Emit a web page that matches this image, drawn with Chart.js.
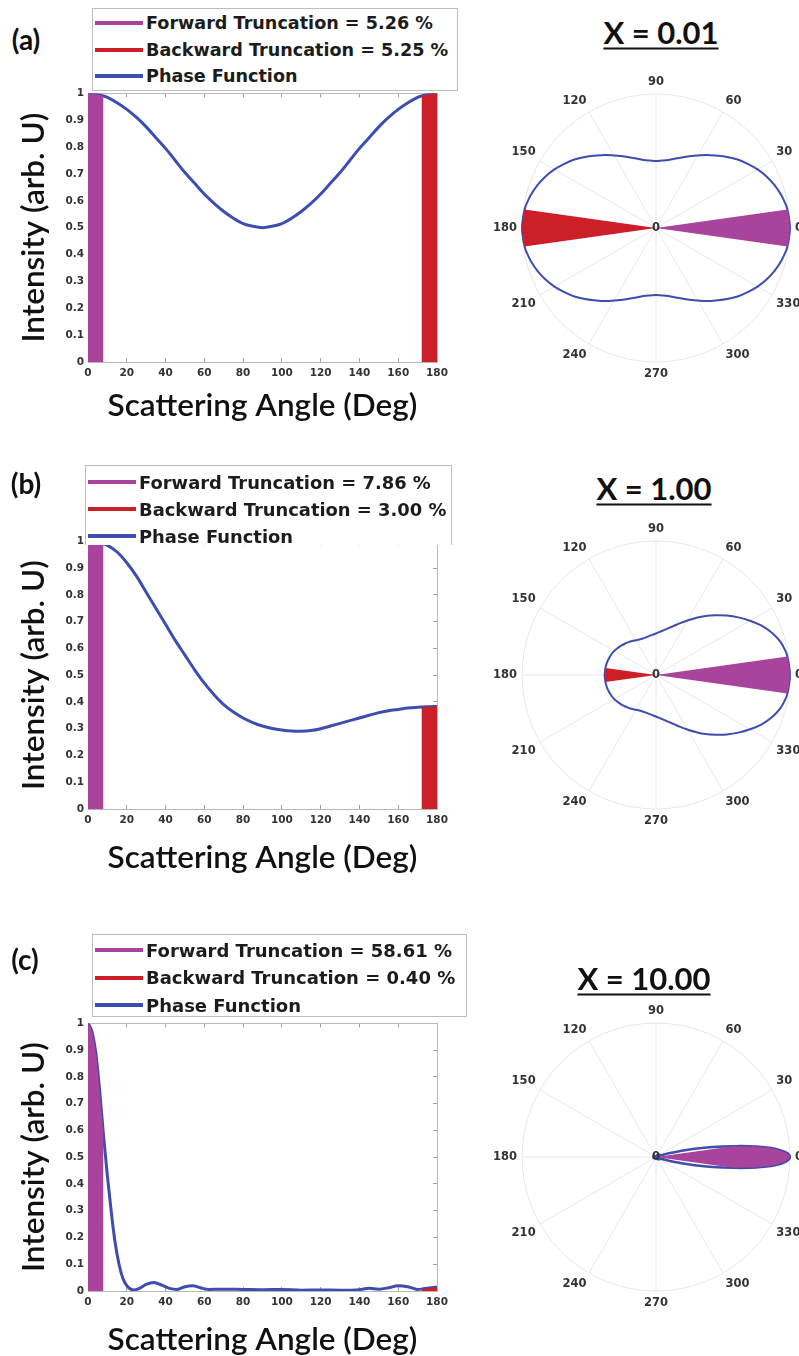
<!DOCTYPE html>
<html>
<head>
<meta charset="utf-8">
<title>Phase function truncation</title>
<script src="https://cdn.jsdelivr.net/npm/chart.js@4.4.1/dist/chart.umd.min.js"></script>
<style>
  html, body { margin: 0; padding: 0; background: #fff; }
  body { position: relative; width: 799px; height: 1356px; overflow: hidden; }
  canvas { position: absolute; }
  .tag { position: absolute; font: 700 28px Lato, sans-serif; color: #111; line-height: 1; transform: translate(-50%, -50%); white-space: nowrap; }
  .size { position: absolute; font: 700 31px Lato, sans-serif; color: #111; line-height: 1; white-space: nowrap;
          transform: translate(-50%, -50%); text-decoration: underline; text-decoration-thickness: 2px; text-underline-offset: 4px; }
  .legend { position: absolute; box-sizing: border-box; background: #fff; border: 1px solid #bdbdbd;
            font-family: "DejaVu Sans", sans-serif; font-weight: 700; color: #1c1c1c; }
  .legend .row { position: absolute; left: 0; height: 26px; display: flex; align-items: center; white-space: nowrap; }
  .legend .swatch { width: 48px; height: 4px; margin: 0 3px 0 2px; flex: none; }
</style>
</head>
<body>
<script>
// ---- values ----
const sizeParameters     = [0.01, 1.00, 10.00];
const forwardTruncation  = [5.26, 7.86, 58.61];   // percent
const backwardTruncation = [5.25, 3.00, 0.40];    // percent
const truncationAngle    = 8;                     // degrees

const anglesA = [0, 4, 8, 10, 15, 20, 25, 30, 35, 40, 45, 50, 55, 60, 65, 70, 75, 80, 85, 90,
                 95, 100, 105, 110, 115, 120, 125, 130, 135, 140, 145, 150, 155, 160, 165, 170, 172, 176, 180];
const phaseA  = [1.00, 0.996, 0.99, 0.985, 0.965, 0.94, 0.91, 0.875, 0.835, 0.795, 0.75, 0.705, 0.665, 0.625, 0.59, 0.56, 0.535, 0.515, 0.505, 0.50,
                 0.505, 0.515, 0.535, 0.56, 0.59, 0.625, 0.665, 0.705, 0.75, 0.795, 0.835, 0.875, 0.91, 0.94, 0.965, 0.985, 0.99, 0.996, 1.00];

const anglesB = [0, 4, 8, 10, 15, 20, 25, 30, 35, 40, 45, 50, 55, 60, 65, 70, 75, 80, 85, 90,
                 95, 100, 105, 110, 115, 120, 125, 130, 135, 140, 145, 150, 155, 160, 165, 170, 172, 176, 180];
const phaseB  = [1.00, 0.996, 0.99, 0.985, 0.96, 0.92, 0.87, 0.81, 0.75, 0.69, 0.63, 0.575, 0.52, 0.47, 0.427, 0.39, 0.362, 0.34, 0.323, 0.31,
                 0.301, 0.295, 0.291, 0.29, 0.293, 0.30, 0.31, 0.32, 0.33, 0.34, 0.35, 0.36, 0.367, 0.372, 0.377, 0.38, 0.381, 0.382, 0.383];

const anglesC = [0, 2, 4, 6, 8, 10, 12, 14, 16, 18, 20, 22, 24, 27, 30, 34, 38, 42, 46, 50, 54, 58, 62, 70, 80, 90, 100, 110, 120, 130, 140, 145, 150, 155, 160, 165, 170, 172, 175, 180];
const phaseC  = [1.00, 0.97, 0.89, 0.75, 0.58, 0.43, 0.295, 0.18, 0.10, 0.047, 0.02, 0.007, 0.004, 0.012, 0.025, 0.032, 0.022, 0.01, 0.006, 0.016, 0.02, 0.012, 0.006, 0.007, 0.006, 0.005, 0.006, 0.003, 0.004, 0.003, 0.005, 0.01, 0.007, 0.012, 0.02, 0.016, 0.006, 0.007, 0.01, 0.015];

const xTicks      = [0, 20, 40, 60, 80, 100, 120, 140, 160, 180];
const xTickLabels = ['0', '20', '40', '60', '80', '100', '120', '140', '160', '180'];
const yTicks      = [0, 0.1, 0.2, 0.3, 0.4, 0.5, 0.6, 0.7, 0.8, 0.9, 1];
const yTickLabels = ['0', '0.1', '0.2', '0.3', '0.4', '0.5', '0.6', '0.7', '0.8', '0.9', '1'];
const polarLabels = [0, 30, 60, 90, 120, 150, 180, 210, 240, 270, 300, 330];

const panelTags = ['(a)', '(b)', '(c)'];
const panels = [
  { angles: anglesA, phase: phaseA },
  { angles: anglesB, phase: phaseB },
  { angles: anglesC, phase: phaseC }
];

// ---- look & placement ----
const PURPLE = '#a8449b', RED = '#cc1f27', BLUE = '#3d4db0';
const FRAME = '#b8b8b8', TICKMARK = '#a0a0a0', TICKTEXT = '#333';
const tickFont = { family: 'DejaVu Sans', size: 10.5, weight: 'bold' };
const axisTitleFont = { family: 'Lato', size: 31.5, weight: 600 };

const cartesianFrames = [
  { top: 79,   height: 346, xAxisHeight: 63 },
  { top: 527,  height: 350, xAxisHeight: 68 },
  { top: 1009, height: 350, xAxisHeight: 68 }
];
const legendBoxes = [
  { left: 92, top: 8,   width: 366, height: 83, rowTop: 1, rowGap: 26.5, font: 17.6, bottomBorder: true },
  { left: 85, top: 465, width: 367, height: 80, rowTop: 3, rowGap: 27,   font: 17.9, bottomBorder: false },
  { left: 92, top: 934, width: 375, height: 83, rowTop: 2, rowGap: 27.5, font: 18,   bottomBorder: true }
];
const tagCentres   = [[26, 39], [26, 483], [25, 959]];
const titleCentres = [[661, 32], [654, 488], [644, 978]];
const polarFrames  = [ { left: 485, top: 66, line: 2 }, { left: 485, top: 513, line: 2 }, { left: 485, top: 995, line: 2.5 } ];
const POLAR_SIZE = 326;

Chart.defaults.font.family = 'DejaVu Sans';
Chart.defaults.color = TICKTEXT;

function addCanvas(left, top, w, h) {
  const c = document.createElement('canvas');
  c.width = w; c.height = h;
  c.style.left = left + 'px'; c.style.top = top + 'px';
  c.style.width = w + 'px'; c.style.height = h + 'px';
  document.body.appendChild(c);
  return c;
}

function addText(cls, text, centre) {
  const d = document.createElement('div');
  d.className = cls;
  d.textContent = text;
  d.style.left = centre[0] + 'px';
  d.style.top = centre[1] + 'px';
  document.body.appendChild(d);
}

function fixedTicks(values) {
  return scale => { scale.ticks = values.map(v => ({ value: v })); };
}

// top and right edges of the box: tick marks only, no labels, no room taken
function frameAxis(position, min, max, values) {
  const horizontal = position === 'top' || position === 'bottom';
  return {
    type: 'linear', position, min, max,
    afterBuildTicks: fixedTicks(values),
    ticks: { display: false },
    grid: { drawOnChartArea: false, tickLength: -4, color: TICKMARK },
    border: { color: FRAME },
    afterFit: s => { if (horizontal) s.height = 0; else s.width = 0; }
  };
}

function truncationLabels(k) {
  return [
    'Forward Truncation = ' + forwardTruncation[k].toFixed(2) + ' %',
    'Backward Truncation = ' + backwardTruncation[k].toFixed(2) + ' %',
    'Phase Function'
  ];
}

function cartesianChart(k) {
  const { angles, phase } = panels[k];
  const f = cartesianFrames[k];
  const canvas = addCanvas(0, f.top, 460, f.height);
  const points = angles.map((a, i) => ({ x: a, y: phase[i] }));
  const forward = points.filter(p => p.x <= truncationAngle);
  const backward = points.filter(p => p.x >= 180 - truncationAngle);
  const labels = truncationLabels(k);
  const area = { borderWidth: 0, fill: 'origin', pointRadius: 0, cubicInterpolationMode: 'monotone' };
  return new Chart(canvas, {
    type: 'line',
    data: {
      datasets: [
        Object.assign({ label: labels[0], data: forward, borderColor: PURPLE, backgroundColor: PURPLE }, area),
        Object.assign({ label: labels[1], data: backward, borderColor: RED, backgroundColor: RED }, area),
        { label: labels[2], data: points, borderColor: BLUE, backgroundColor: BLUE, borderWidth: 3,
          fill: false, pointRadius: 0, cubicInterpolationMode: 'monotone' }
      ]
    },
    options: {
      responsive: false, animation: false, events: [], devicePixelRatio: 1,
      layout: { padding: { top: 10, right: 23, left: 0, bottom: 0 } },
      plugins: { legend: { display: false }, tooltip: { enabled: false } },
      scales: {
        x: {
          type: 'linear', position: 'bottom', min: 0, max: 180,
          afterBuildTicks: fixedTicks(xTicks),
          ticks: { padding: 9, maxRotation: 0, autoSkip: false, font: tickFont, color: TICKTEXT,
                   callback: (v, i) => xTickLabels[i] },
          grid: { drawOnChartArea: false, tickLength: -4, color: TICKMARK },
          border: { color: FRAME },
          title: { display: true, text: 'Scattering Angle (Deg)', font: axisTitleFont, color: '#111',
                   padding: { top: 0, bottom: 0 } },
          afterFit: s => { s.height = f.xAxisHeight; }
        },
        y: {
          type: 'linear', position: 'left', min: 0, max: 1,
          afterBuildTicks: fixedTicks(yTicks),
          ticks: { padding: 8, autoSkip: false, font: tickFont, color: TICKTEXT,
                   callback: (v, i) => yTickLabels[i] },
          grid: { drawOnChartArea: false, tickLength: -4, color: TICKMARK },
          border: { color: FRAME },
          title: { display: true, text: 'Intensity (arb. U)', font: axisTitleFont, color: '#111',
                   padding: { top: 15, bottom: 0 } },
          afterFit: s => { s.width = 88; }
        },
        x2: frameAxis('top', 0, 180, xTicks),
        y2: frameAxis('right', 0, 1, yTicks)
      }
    }
  });
}

// radial tick at the pole, written over the wedges
const poleTick = {
  id: 'poleTick',
  afterDatasetsDraw(chart) {
    const r = chart.scales.r;
    const ctx = chart.ctx;
    ctx.save();
    ctx.font = 'bold 11.5px "DejaVu Sans"';
    ctx.fillStyle = TICKTEXT;
    ctx.textAlign = 'center';
    ctx.textBaseline = 'middle';
    ctx.fillText(r.ticks[0].label, r.xCenter, r.yCenter);
    ctx.restore();
  }
};

function polarChart(k) {
  const { angles, phase } = panels[k];
  const p = polarFrames[k];
  const canvas = addCanvas(p.left, p.top, POLAR_SIZE, POLAR_SIZE);
  const n = 360;
  // one spoke per degree, running counter-clockwise from 0 at the right
  const spokes = Array.from({ length: n }, (_, i) => String((n - i) % n));
  const spread = keep => {
    const r = new Array(n).fill(null);
    angles.forEach((a, j) => {
      if (keep(a)) { r[a % n] = phase[j]; r[(n - a) % n] = phase[j]; }
    });
    return r;
  };
  const forward = spread(a => a <= truncationAngle);
  forward[180] = 0;                       // wedge apex at the pole
  const backward = spread(a => a >= 180 - truncationAngle);
  backward[0] = 0;
  const whole = spread(() => true);
  const labels = truncationLabels(k);
  const wedge = { borderWidth: 0, fill: 'origin', spanGaps: true, pointRadius: 0, tension: 0 };
  return new Chart(canvas, {
    type: 'radar',
    data: {
      labels: spokes,
      datasets: [
        Object.assign({ label: labels[0], data: forward, borderColor: PURPLE, backgroundColor: PURPLE }, wedge),
        Object.assign({ label: labels[1], data: backward, borderColor: RED, backgroundColor: RED }, wedge),
        { label: labels[2], data: whole, borderColor: BLUE, backgroundColor: BLUE, borderWidth: p.line,
          fill: false, spanGaps: true, pointRadius: 0, tension: 0.4 }
      ]
    },
    options: {
      responsive: false, animation: false, events: [], devicePixelRatio: 1,
      plugins: { legend: { display: false }, tooltip: { enabled: false } },
      scales: {
        r: {
          min: 0, max: 1, startAngle: 90,
          ticks: { display: false, stepSize: 1 },
          grid: { circular: true, color: '#e8e8e8', lineWidth: 1 },
          angleLines: { color: '#e8e8e8', lineWidth: c => (polarLabels.includes((n - c.index) % n) ? 1 : 0) },
          pointLabels: {
            padding: 5, color: TICKTEXT,
            font: { family: 'DejaVu Sans', size: 11.5, weight: 'bold' },
            callback: l => (polarLabels.includes(+l) ? l : '')
          }
        }
      }
    },
    plugins: [poleTick]
  });
}

function legendFor(chart, k) {
  const b = legendBoxes[k];
  const box = document.createElement('div');
  box.className = 'legend';
  Object.assign(box.style, {
    left: b.left + 'px', top: b.top + 'px', width: b.width + 'px', height: b.height + 'px',
    fontSize: b.font + 'px', borderBottom: b.bottomBorder ? '' : 'none'
  });
  chart.data.datasets.forEach((ds, i) => {
    const row = document.createElement('div');
    row.className = 'row';
    row.style.top = (b.rowTop + i * b.rowGap) + 'px';
    const sw = document.createElement('span');
    sw.className = 'swatch';
    sw.style.background = ds.borderColor;
    const tx = document.createElement('span');
    tx.textContent = ds.label;
    row.appendChild(sw);
    row.appendChild(tx);
    box.appendChild(row);
  });
  document.body.appendChild(box);
}

for (let k = 0; k < 3; k++) {
  const c = cartesianChart(k);
  polarChart(k);
  legendFor(c, k);
  addText('tag', panelTags[k], tagCentres[k]);
  addText('size', 'X = ' + sizeParameters[k].toFixed(2), titleCentres[k]);
}
</script>
</body>
</html>
